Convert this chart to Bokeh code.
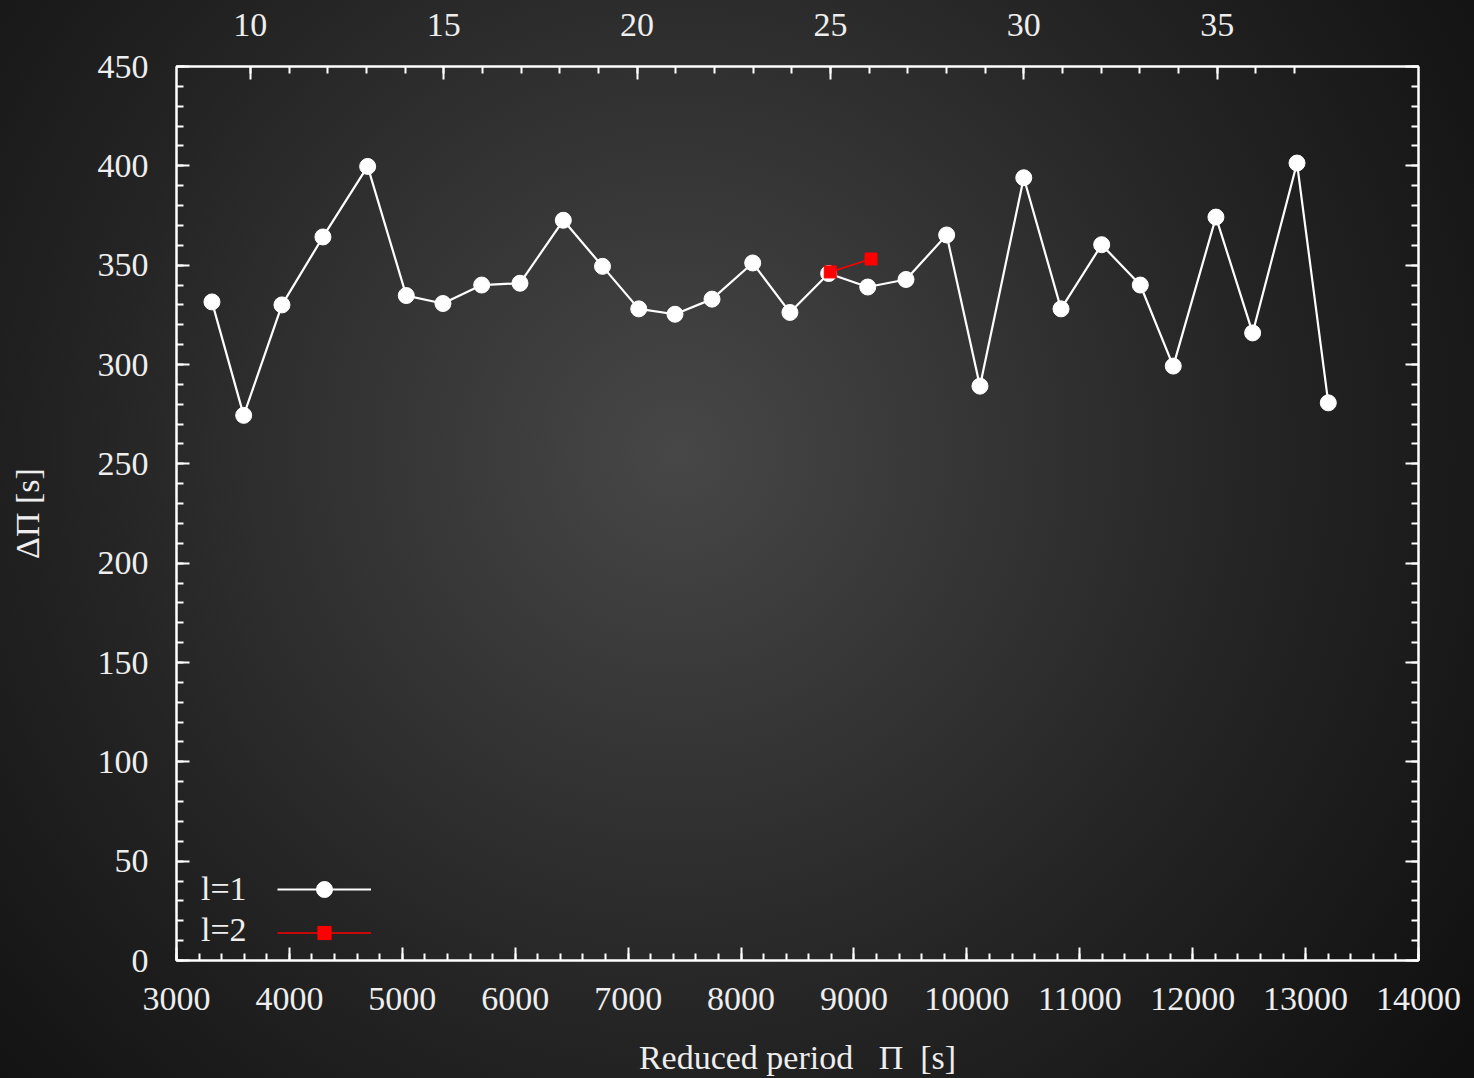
from bokeh.plotting import figure
from bokeh.models import (Range1d, LinearAxis, FixedTicker, SingleIntervalTicker,
                          Legend, LegendItem, GlobalInlineStyleSheet, CustomJSTickFormatter)
from bokeh.embed import file_html
from bokeh.resources import INLINE

# ---------------- data ----------------
period_l1 = [3314, 3595, 3934, 4297, 4693, 5035, 5360, 5703, 6042, 6426,
             6773, 7094, 7415, 7743, 8103, 8433, 8776, 9122, 9461, 9821,
             10116, 10504, 10834, 11194, 11536, 11828, 12206, 12531, 12924, 13201]
dp_l1 = [331.5, 274.4, 330.0, 364.2, 399.7, 334.7, 330.7, 340.0, 340.9, 372.6,
         349.4, 328.0, 325.3, 332.9, 351.1, 326.2, 345.8, 339.0, 342.8, 365.2,
         289.1, 394.0, 328.0, 360.3, 340.0, 299.2, 374.2, 315.9, 401.4, 280.7]
period_l2 = [8790, 9151]
dp_l2 = [346.6, 353.1]

series_names = ["l=1", "l=2"]

k_major = [10, 15, 20, 25, 30, 35]
k_minor = list(range(10, 38))
# top axis: radial order k, linear in period
k_ref, period_at_k_ref, period_per_k = 10, 3654.0, 342.5

x_lo, x_hi = 3000, 14000
y_lo, y_hi = 0, 450

FONT = "Liberation Serif"
FS = "34px"
TXT = "#eeeeee"

p = figure(width=1474, height=1078,
           x_range=Range1d(x_lo, x_hi), y_range=Range1d(y_lo, y_hi),
           output_backend="svg", toolbar_location=None,
           min_border_left=176, min_border_right=56,
           min_border_top=66, min_border_bottom=117)
p.background_fill_color = None
p.border_fill_color = None
p.outline_line_color = "white"
p.outline_line_width = 2
p.grid.visible = False

p.stylesheets = [GlobalInlineStyleSheet(css="""
html { overflow: hidden; background: radial-gradient(circle farthest-corner at 46% 42%,
       #474747 0%, #363636 28%, #242424 58%, #161616 85%, #0f0f0f 100%) fixed; }
body { background: transparent; overflow: hidden; }
""")]


def style_axis(ax):
    ax.axis_line_color = "white"
    ax.axis_line_width = 2
    ax.major_tick_in = 13
    ax.major_tick_out = 0
    ax.minor_tick_in = 7
    ax.minor_tick_out = 0
    ax.major_tick_line_color = "white"
    ax.minor_tick_line_color = "white"
    ax.major_tick_line_width = 2
    ax.minor_tick_line_width = 2
    ax.major_label_text_font = FONT
    ax.major_label_text_font_size = FS
    ax.major_label_text_color = TXT
    ax.axis_label_text_font = FONT
    ax.axis_label_text_font_size = FS
    ax.axis_label_text_color = TXT
    ax.axis_label_text_font_style = "normal"


xt = SingleIntervalTicker(interval=1000, num_minor_ticks=5)
yt = SingleIntervalTicker(interval=50, num_minor_ticks=5)

xa = p.xaxis[0]
xa.ticker = xt
style_axis(xa)
xa.major_label_standoff = 27
xa.axis_label = "Reduced period \u00a0\u00a0\u03a0 \u00a0[s]"
xa.axis_label_standoff = 26

ya = p.yaxis[0]
ya.ticker = yt
style_axis(ya)
ya.major_label_standoff = 28
ya.axis_label = "\u0394\u03a0 [s]"
ya.axis_label_standoff = 49

# mirrored ticks on the right, no labels
yr = LinearAxis(ticker=yt, formatter=CustomJSTickFormatter(code="return ''"))
style_axis(yr)
yr.major_label_standoff = 0
p.add_layout(yr, "right")

k_lo = k_ref + (x_lo - period_at_k_ref) / period_per_k
k_hi = k_ref + (x_hi - period_at_k_ref) / period_per_k
p.extra_x_ranges = {"k": Range1d(k_lo, k_hi)}
xk = LinearAxis(x_range_name="k", ticker=FixedTicker(ticks=k_major, minor_ticks=k_minor))
style_axis(xk)
xk.major_label_standoff = 31
p.add_layout(xk, "above")

# ---------------- series ----------------
r1l = p.line(period_l1, dp_l1, line_color="white", line_width=2.2)
r1s = p.scatter(period_l1, dp_l1, marker="circle", size=16,
                fill_color="white", line_color="white")
r2l = p.line(period_l2, dp_l2, line_color="#ff0000", line_width=1.6)
r2s = p.scatter(period_l2, dp_l2, marker="square", size=12,
                fill_color="#ff0000", line_color="#ff0000")

# ---------------- legend: label on the left, sample on the right ----------------
common = dict(padding=0, margin=0, border_line_color=None, background_fill_alpha=0,
              label_width=0, label_standoff=0)

# texts of the key (no sample drawn)
leg_text = Legend(items=[LegendItem(label=series_names[0], renderers=[]),
                         LegendItem(label=series_names[1], renderers=[])],
                  location=(25, 10), glyph_width=0, glyph_height=40, label_height=10,
                  spacing=1, label_text_font=FONT, label_text_font_size=FS,
                  label_text_color=TXT, **common)
p.add_layout(leg_text)

# samples of the key (line + marker), no text
def sample_legend(renderers, gh, loc):
    return Legend(items=[LegendItem(label="", renderers=renderers)],
                  location=loc, glyph_width=94, glyph_height=gh, label_height=4,
                  spacing=0, label_text_font_size="8px", **common)

p.add_layout(sample_legend([r1l, r1s], 40, (101, 51)))
p.add_layout(sample_legend([r2l, r2s], 33, (101, 11)))

open("out.html", "w").write(file_html(p, INLINE))
